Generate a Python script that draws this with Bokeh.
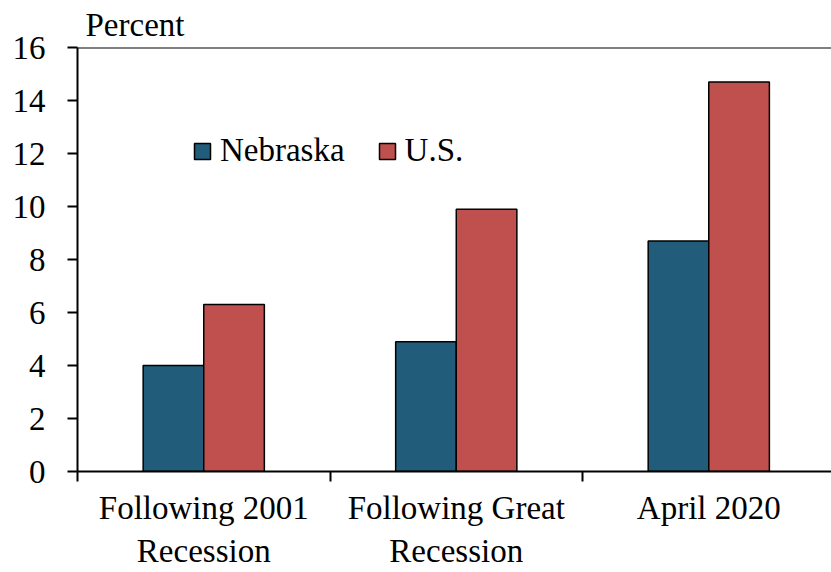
from bokeh.plotting import figure
from bokeh.models import FixedTicker, Range1d, Span, Legend, LegendItem, ColumnDataSource
from bokeh.embed import file_html
from bokeh.resources import INLINE

categories = ["Following 2001\nRecession", "Following Great\nRecession", "April 2020"]
nebraska = [4.0, 4.9, 8.7]
us = [6.3, 9.9, 14.7]
y_ticks = [0, 2, 4, 6, 8, 10, 12, 14, 16]

FONT = "Liberation Serif"
FS = "33px"
NE_COLOR = "#215d7a"
US_COLOR = "#c0504d"

idx = list(range(len(categories)))
centers = [i + 0.5 for i in idx]
bw = 0.24
src = ColumnDataSource(dict(
    ne_x=[c - bw / 2 for c in centers],
    us_x=[c + bw / 2 for c in centers],
    ne=nebraska, us=us,
))

p = figure(width=831, height=572, x_range=Range1d(0, 2.986), y_range=Range1d(0, 16),
           output_backend="svg", toolbar_location=None,
           min_border_left=77, min_border_right=0, min_border_top=0, min_border_bottom=101)

r_ne = p.vbar(x="ne_x", top="ne", width=bw, bottom=0, source=src,
              fill_color=NE_COLOR, line_color="black", line_width=1.5)
r_us = p.vbar(x="us_x", top="us", width=bw, bottom=0, source=src,
              fill_color=US_COLOR, line_color="black", line_width=1.5)

p.xgrid.visible = False
p.ygrid.visible = False
p.outline_line_color = None

p.add_layout(Span(location=16, dimension="width", line_color="black", line_width=2))

# Title
p.title.text = "Percent"
p.title.text_font = FONT
p.title.text_font_size = FS
p.title.text_font_style = "normal"
p.title.text_color = "black"
p.title.align = "left"
p.title.offset = 8
p.title.standoff = 9

# Y axis
p.yaxis.ticker = FixedTicker(ticks=y_ticks)
p.yaxis.major_tick_out = 10
p.yaxis.major_tick_in = 0
p.yaxis.minor_tick_out = 0
p.yaxis.minor_tick_in = 0
p.yaxis.axis_line_width = 2
p.yaxis.major_tick_line_width = 2
p.yaxis.major_label_text_font = FONT
p.yaxis.major_label_text_font_size = FS
p.yaxis.major_label_text_color = "black"
p.yaxis.major_label_standoff = 22

# X axis
p.xaxis.ticker = FixedTicker(ticks=centers, minor_ticks=[0, 1, 2, 3])
p.xaxis.major_label_overrides = {c: lab for c, lab in zip(centers, categories)}
p.xaxis.major_tick_out = 0
p.xaxis.major_tick_in = 0
p.xaxis.minor_tick_out = 10
p.xaxis.minor_tick_in = 0
p.xaxis.minor_tick_line_width = 2
p.xaxis.axis_line_width = 2
p.xaxis.major_label_text_font = FONT
p.xaxis.major_label_text_font_size = FS
p.xaxis.major_label_text_color = "black"
p.xaxis.major_label_standoff = 8

legend = Legend(items=[LegendItem(label="Nebraska", renderers=[r_ne]),
                       LegendItem(label="U.S.", renderers=[r_us])],
                orientation="horizontal", location=(115, 302),
                border_line_alpha=0, background_fill_alpha=0,
                label_text_font=FONT, label_text_font_size=FS, label_text_color="black",
                glyph_width=20, glyph_height=20, spacing=32, label_standoff=8,
                padding=0, margin=0)
p.add_layout(legend)

open("out.html", "w").write(file_html(p, INLINE))
